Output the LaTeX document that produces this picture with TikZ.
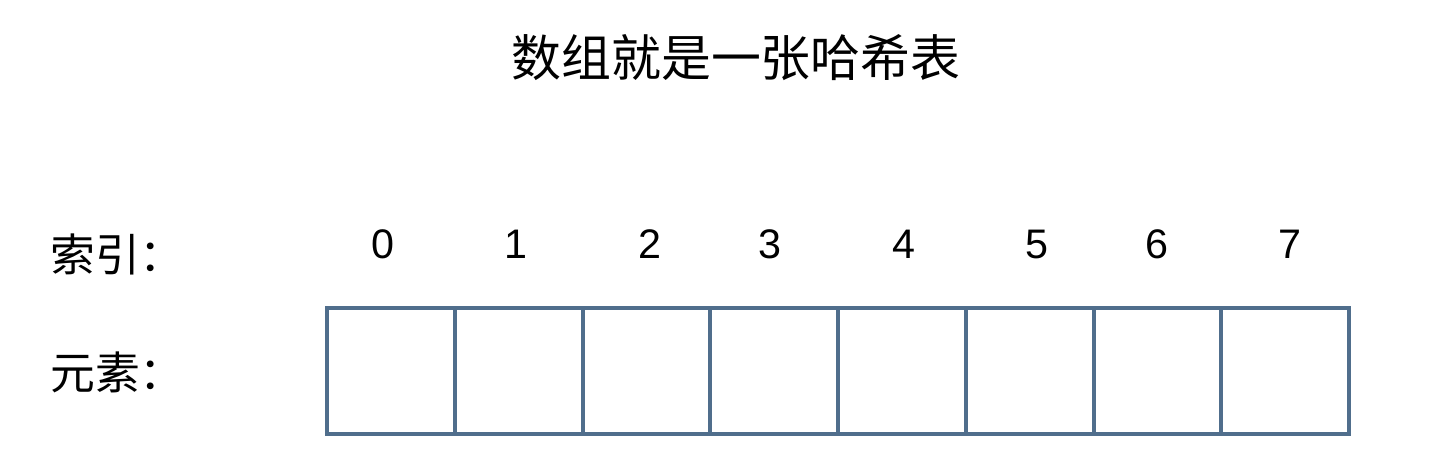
\documentclass[tikz,border=0pt]{standalone}
\usepackage{fontspec}
\setmainfont{Liberation Sans}
\newfontfamily\cjk{Noto Sans CJK SC}
\usepackage{tikz}
\usetikzlibrary{positioning}

\definecolor{cellblue}{RGB}{80,110,140}

\begin{document}
\begin{tikzpicture}[x=0.02cm, y=-0.02cm,
    cell/.style={draw=cellblue, line width=2.3pt, minimum width=2.555cm,
                 minimum height=2.52cm, inner sep=0pt, outer sep=0pt},
    idx/.style={font=\fontsize{23.5}{26}\selectfont, inner sep=0pt},
    rowlabel/.style={font=\cjk\fontsize{25.5}{28}\selectfont, anchor=west, inner sep=0pt}]
        \useasboundingbox (0,0) rectangle (1456,468);

        % Tiêu đề
        \node[font=\cjk\fontsize{28.4}{30}\selectfont] (title) at (736,58) {数组就是一张哈希表};

        % Nhãn hàng
        \node[rowlabel] (idxlabel) at (50,254) {索引：};
        \node[rowlabel] (elemlabel) at (50,372) {元素：};

        % Các ô của mảng
        \foreach \i in {0,...,7} {
            \node[cell] (c\i) at ({390.9+127.75*\i},371) {};
        }

        % Chỉ số
        \foreach \i/\x in {0/383,1/516,2/650,3/770,4/904,5/1037,6/1157,7/1290} {
            \node[idx] (n\i) at (\x,244) {\i};
        }
      \end{tikzpicture}
\end{document}
